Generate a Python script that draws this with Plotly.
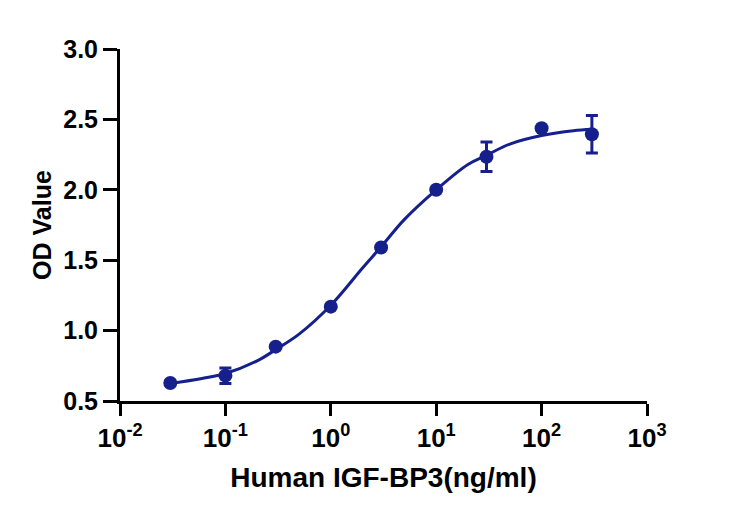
import plotly.graph_objects as go

# Концентрации стандарта и средние OD
conc = [0.03, 0.1, 0.3, 1, 3, 10, 30, 100, 300]
od_mean = [0.628, 0.68, 0.886, 1.17, 1.59, 2.00, 2.235, 2.437, 2.395]
od_err = [0.0, 0.055, 0.0, 0.0, 0.0, 0.0, 0.105, 0.0, 0.133]

# Кривая аппроксимации (точки)
fit_x = [0.03, 0.06, 0.1, 0.2, 0.3, 0.5, 1, 2, 3, 5, 10, 20, 30, 50, 100, 200, 300]
fit_y = [0.625, 0.66, 0.695, 0.785, 0.865, 0.975, 1.18, 1.445, 1.595, 1.79, 2.00, 2.18, 2.245, 2.325, 2.385, 2.42, 2.43]

x_tickvals = [0.01, 0.1, 1, 10, 100, 1000]
x_ticktext = ['<b>10<sup>-2</sup></b>', '<b>10<sup>-1</sup></b>', '<b>10<sup>0</sup></b>',
              '<b>10<sup>1</sup></b>', '<b>10<sup>2</sup></b>', '<b>10<sup>3</sup></b>']

color = '#16208d'

fig = go.Figure()

fig.add_trace(go.Scatter(
    x=fit_x, y=fit_y,
    mode='lines',
    line=dict(color=color, width=3, shape='spline'),
    showlegend=False
))

fig.add_trace(go.Scatter(
    x=conc, y=od_mean,
    mode='markers',
    marker=dict(color=color, size=14),
    error_y=dict(type='data', array=od_err, color=color, thickness=3, width=6),
    showlegend=False
))

# страница сдвигает график на 8px (отступ body), поэтому поля меньше
fig.update_layout(
    width=731, height=520,
    margin=dict(l=112, r=92, t=41, b=127),
    plot_bgcolor='white',
    paper_bgcolor='white',
    font=dict(family='Liberation Sans, Arial, sans-serif', color='black')
)

fig.update_xaxes(
    type='log', range=[-2, 3],
    tickvals=x_tickvals, ticktext=x_ticktext,
    tickfont=dict(size=26),
    ticks='outside', ticklen=12, tickwidth=3, tickcolor='black',
    showline=True, linewidth=3, linecolor='black',
    showgrid=False, zeroline=False,
    title=dict(text='<b>Human IGF-BP3(ng/ml)</b>', font=dict(size=28), standoff=16)
)

fig.update_yaxes(
    range=[0.5, 3.0], dtick=0.5, tickformat='.1f',
    tickfont=dict(size=25, weight='bold'),
    ticks='outside', ticklen=14, tickwidth=3, tickcolor='black',
    showline=True, linewidth=3, linecolor='black',
    showgrid=False, zeroline=False,
    title=dict(text='<b>OD Value</b>', font=dict(size=25), standoff=5)
)

fig.write_html("out.html")
